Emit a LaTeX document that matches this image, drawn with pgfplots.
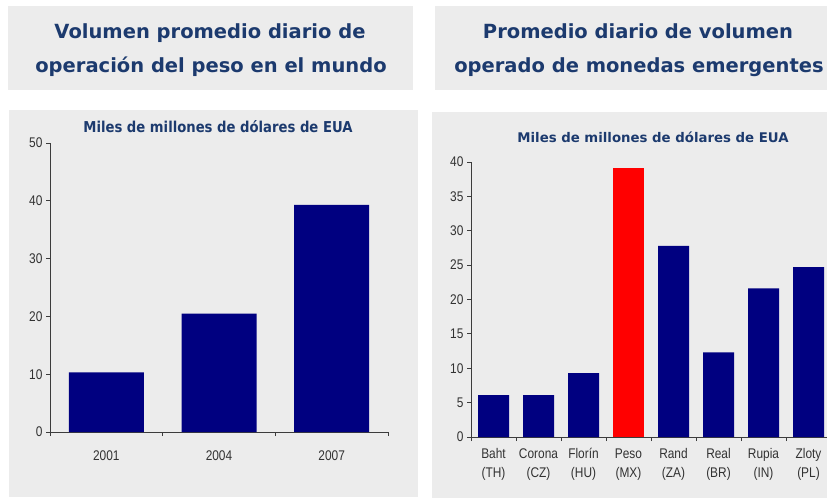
\documentclass[border=0pt]{standalone}
\usepackage{fontspec}
\usepackage{pgfplots}
\pgfplotsset{compat=1.18}
\setmainfont{Liberation Sans}
\newfontfamily\titlefont{DejaVu Sans}
\newfontfamily\narrowfont[FakeStretch=0.85]{Liberation Sans}
\newfontfamily\subfont[FakeStretch=0.88]{DejaVu Sans}
\definecolor{bg}{RGB}{236,236,236}
\definecolor{navy}{RGB}{0,0,128}
\definecolor{pred}{RGB}{255,0,0}
\definecolor{ttl}{RGB}{28,58,110}
\definecolor{axc}{RGB}{60,60,60}
\definecolor{tkc}{RGB}{50,50,50}
\pgfplotsset{
  common/.style={
    scale only axis,
    axis lines*=left,
    axis line style={-, draw=axc, line width=0.9pt},
    tick style={draw=axc, line width=0.9pt},
    tick align=outside,
    major tick length=4pt,
    ymin=0,
    ticklabel style={font=\fontsize{14}{19}\selectfont\narrowfont, text=tkc},
    /pgf/number format/assume math mode=true,
    clip=false,
  }
}
\begin{document}
\begin{tikzpicture}
\useasboundingbox (0pt,0pt) rectangle (827pt,498pt);
\clip (0pt,0pt) rectangle (827pt,498pt);
\fill[white] (0pt,0pt) rectangle (827pt,498pt);
% background boxes
\fill[bg] (8pt,408pt) rectangle (413pt,492pt);
\fill[bg] (435pt,408pt) rectangle (827pt,492pt);
\fill[bg] (9pt,1pt) rectangle (418pt,388pt);
\fill[bg] (432pt,0pt) rectangle (827pt,386pt);
% titles
\tikzset{ttlstyle/.style={anchor=base, text=ttl, draw=none, font=\fontsize{19.5}{22}\selectfont\titlefont\bfseries}}
\node[ttlstyle] at (210pt,459pt) {Volumen promedio diario de};
\node[ttlstyle] at (211pt,425pt) {operación del peso en el mundo};
\node[ttlstyle] at (638pt,459pt) {Promedio diario de volumen};
\node[ttlstyle] at (639pt,425pt) {operado de monedas emergentes};
% subtitles
\node[anchor=base, text=ttl, font=\fontsize{15}{18}\selectfont\subfont\bfseries] at (218pt,365pt) {Miles de millones de dólares de EUA};
\node[anchor=base, text=ttl, font=\fontsize{13.3}{15}\selectfont\titlefont\bfseries] at (653pt,355pt) {Miles de millones de dólares de EUA};

\begin{axis}[common,
  at={(50pt,66pt)}, anchor=south west,
  width=338pt, height=289pt,
  xmin=0.5, xmax=3.5, ymax=50,
  ytick={0,10,20,30,40,50},
  xtick={0.5,1.5,2.5,3.5},
  xticklabels={2001,2004,2007,},
  xticklabel style={xshift=56.33pt, yshift=-11pt},
]
\addplot[ybar, bar width=75pt, bar shift=0pt, fill=navy, draw=none]
  coordinates {(1,10.3) (2,20.5) (3,39.3)};
\end{axis}

\begin{axis}[common,
  at={(471pt,61pt)}, anchor=south west,
  width=360pt, height=275pt,
  xmin=0.5, xmax=8.5, ymax=40,
  ytick={0,5,10,15,20,25,30,35,40},
  xtick={0.5,1.5,2.5,3.5,4.5,5.5,6.5,7.5,8.5},
  xticklabels={{Baht\\(TH)},{Corona\\(CZ)},{Florín\\(HU)},{Peso\\(MX)},{Rand\\(ZA)},{Real\\(BR)},{Rupia\\(IN)},{Zloty\\(PL)},},
  xticklabel style={xshift=22.5pt, yshift=-4pt, align=center},
]
\addplot[ybar, bar width=31pt, bar shift=0pt, fill=navy, draw=none]
  coordinates {(1,6.1) (2,6.1) (3,9.3) (5,27.8) (6,12.3) (7,21.6) (8,24.7)};
\addplot[ybar, bar width=31pt, bar shift=0pt, fill=pred, draw=none]
  coordinates {(4,39.1)};
\end{axis}
\end{tikzpicture}
\end{document}
